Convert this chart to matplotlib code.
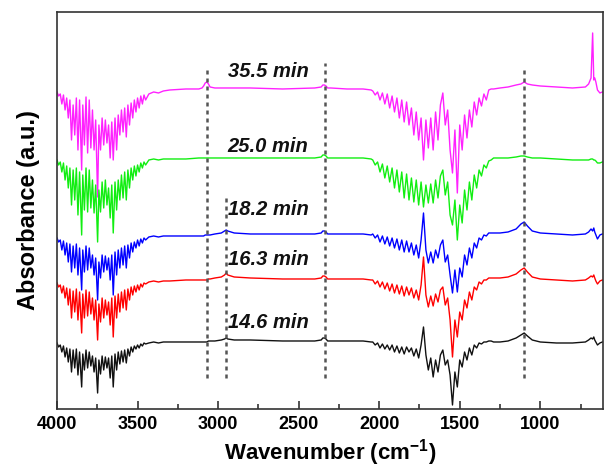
import matplotlib
matplotlib.use('Agg')
import matplotlib.pyplot as plt
from matplotlib.ticker import MultipleLocator

plt.rcParams.update({
    'font.family': ['Liberation Sans', 'DejaVu Sans'],
    'font.weight': 'bold',
    'mathtext.fontset': 'custom',
    'mathtext.rm': 'Liberation Sans:bold',
    'mathtext.bf': 'Liberation Sans:bold',
})

# DATA (absorbance, arbitrary offset units, stacked as in the figure)
# region A: O-H / water vapour band
wn_a = [4000, 3990, 3980, 3970, 3960, 3950, 3940, 3930, 3920, 3910,
        3900, 3890, 3880, 3870, 3860, 3847, 3840, 3830, 3820, 3810,
        3800, 3790, 3780, 3770, 3760, 3748, 3740, 3730, 3720, 3710,
        3700, 3690, 3680, 3670, 3660, 3651, 3640, 3630, 3620, 3610,
        3600, 3590, 3580, 3570, 3560, 3550, 3540, 3530, 3520, 3510,
        3500, 3490, 3480, 3470, 3460, 3450, 3430, 3400]
mag_a = [317, 313, 315, 305, 314, 299, 311, 291, 309, 269,
         304, 274, 311, 259, 309, 239, 304, 264, 312, 256,
         309, 261, 299, 259, 289, 212, 284, 259, 291, 264,
         289, 266, 284, 251, 287, 249, 291, 259, 294, 274,
         299, 277, 301, 272, 304, 284, 306, 291, 309, 297,
         311, 301, 313, 305, 314, 309, 315, 317]
grn_a = [249, 244, 247, 237, 246, 229, 243, 221, 241, 204,
         239, 209, 241, 194, 237, 174, 234, 199, 241, 197,
         239, 201, 229, 196, 224, 167, 219, 197, 227, 201,
         229, 204, 221, 191, 224, 176, 227, 199, 229, 209,
         234, 211, 237, 209, 239, 221, 241, 229, 243, 233,
         244, 237, 246, 241, 247, 244, 249, 250]
blu_a = [171, 167, 169, 159, 168, 154, 166, 147, 165, 137,
         163, 141, 165, 134, 161, 119, 159, 137, 163, 139,
         161, 141, 154, 134, 151, 109, 147, 131, 154, 137,
         153, 139, 151, 129, 154, 114, 157, 134, 159, 141,
         161, 144, 163, 141, 164, 151, 166, 157, 167, 161,
         169, 163, 170, 166, 171, 169, 172, 173]
red_a = [126, 122, 124, 116, 123, 111, 121, 104, 120, 91,
         118, 97, 120, 89, 117, 76, 115, 91, 119, 93,
         117, 95, 111, 89, 109, 69, 105, 87, 111, 91,
         109, 94, 107, 84, 111, 72, 113, 91, 115, 97,
         117, 101, 119, 99, 120, 109, 122, 114, 123, 117,
         124, 119, 125, 122, 126, 125, 127, 128]
blk_a = [66, 62, 64, 57, 63, 52, 61, 47, 60, 37,
         59, 41, 60, 34, 57, 22, 55, 39, 59, 41,
         57, 43, 53, 37, 51, 16, 49, 35, 53, 39,
         52, 41, 51, 31, 53, 22, 55, 39, 57, 45,
         58, 47, 59, 46, 60, 53, 62, 57, 63, 60,
         64, 61, 65, 63, 66, 65, 66, 67]

# region C: 3370-2050 (C-H and CO2 bands)
wn_c = [3370, 3340, 3300, 3200, 3120, 3100, 3090, 3080, 3070, 3060,
        3050, 3020, 2980, 2960, 2950, 2940, 2900, 2800, 2600, 2400,
        2360, 2350, 2340, 2330, 2320, 2300, 2200, 2100, 2050]
mag_c = [316, 318, 319, 320, 320, 321, 323, 326, 327, 325,
         322, 321, 321, 321, 321, 321, 321, 321, 320, 321,
         322, 324, 324, 323, 321, 321, 320, 320, 319]
grn_c = [249, 250, 250, 250, 251, 251, 251, 251, 251, 251,
         251, 251, 251, 251, 251, 251, 251, 251, 251, 251,
         252, 254, 254, 253, 251, 251, 251, 251, 250]
blu_c = [172, 173, 173, 173, 173, 173, 173, 174, 174, 174,
         174, 175, 176, 178, 179, 178, 176, 175, 175, 175,
         176, 178, 178, 177, 175, 175, 175, 175, 174]
red_c = [127, 128, 128, 129, 129, 129, 129, 129, 129, 130,
         130, 131, 132, 134, 136, 134, 132, 131, 130, 130,
         131, 133, 133, 132, 130, 130, 130, 130, 129]
blk_c = [66, 67, 67, 67, 67, 67, 67, 67, 67, 68,
         68, 68, 69, 70, 71, 70, 69, 69, 68, 68,
         69, 71, 71, 70, 68, 68, 68, 68, 67]

# region B: 2040-1305 (water bending / C=O)
wn_b = [2040, 2025, 2010, 1995, 1980, 1965, 1950, 1935, 1920, 1905,
        1890, 1875, 1860, 1845, 1830, 1815, 1800, 1785, 1770, 1755,
        1740, 1725, 1710, 1695, 1680, 1665, 1650, 1635, 1620, 1605,
        1590, 1575, 1560, 1545, 1530, 1515, 1500, 1485, 1470, 1455,
        1440, 1425, 1410, 1395, 1380, 1365, 1350, 1335, 1320, 1305]
mag_b = [318, 314, 317, 309, 316, 305, 315, 301, 313, 297,
         311, 291, 309, 287, 307, 284, 301, 274, 297, 269,
         291, 249, 289, 261, 291, 259, 297, 269, 304, 316,
         284, 299, 259, 236, 279, 216, 284, 259, 294, 271,
         299, 282, 307, 294, 311, 303, 315, 309, 319, 320]
grn_b = [249, 244, 247, 237, 245, 231, 243, 227, 241, 221,
         239, 217, 237, 211, 235, 209, 231, 207, 229, 204,
         227, 202, 224, 206, 225, 206, 229, 211, 233, 239,
         214, 227, 194, 184, 209, 169, 204, 186, 219, 199,
         227, 209, 234, 221, 239, 233, 244, 241, 248, 249]
blu_b = [175, 171, 174, 167, 173, 165, 172, 163, 171, 161,
         170, 159, 169, 157, 168, 157, 166, 154, 164, 151,
         169, 196, 159, 146, 157, 146, 159, 151, 164, 169,
         147, 154, 134, 116, 139, 117, 141, 132, 154, 144,
         161, 151, 166, 161, 171, 169, 174, 173, 176, 176]
red_b = [129, 125, 128, 122, 127, 120, 126, 118, 125, 116,
         124, 115, 123, 113, 122, 114, 121, 111, 119, 109,
         124, 152, 114, 102, 113, 103, 115, 107, 119, 122,
         104, 111, 89, 52, 89, 72, 97, 89, 109, 101,
         117, 109, 122, 119, 127, 125, 129, 129, 131, 131]
blk_b = [67, 64, 66, 61, 65, 60, 64, 59, 64, 57,
         63, 56, 62, 55, 62, 57, 61, 53, 60, 51,
         64, 82, 54, 39, 51, 32, 49, 37, 54, 59,
         44, 49, 34, 4, 37, 22, 49, 42, 57, 49,
         61, 54, 64, 61, 66, 65, 67, 67, 68, 68]

# region D: 1290-615 (C-O band, CO2 bend)
wn_d = [1290, 1250, 1200, 1150, 1120, 1100, 1080, 1050, 1000, 900,
        800, 720, 700, 685, 675, 668, 662, 655, 645, 630, 615]
mag_d = [320, 321, 322, 324, 325, 327, 325, 324, 323, 322,
         321, 322, 325, 331, 376, 329, 331, 327, 319, 316, 317]
grn_d = [251, 251, 251, 252, 253, 253, 252, 251, 251, 250,
         249, 249, 249, 250, 250, 249, 249, 248, 246, 246, 247]
blu_d = [176, 176, 177, 180, 185, 187, 183, 178, 176, 175,
         174, 175, 177, 180, 178, 181, 177, 174, 170, 174, 175]
red_d = [131, 131, 132, 135, 139, 141, 137, 132, 130, 129,
         128, 129, 131, 133, 132, 134, 131, 128, 125, 128, 129]
blk_d = [67, 67, 68, 71, 74, 76, 73, 69, 67, 66,
         66, 67, 69, 71, 70, 72, 69, 67, 64, 66, 67]

labels = ['35.5 min', '25.0 min', '18.2 min', '16.3 min', '14.6 min']
marker_wn = [3070, 2950, 2335, 1100]

# STYLE / LAYOUT
colors = ['#ff22ff', '#11ee11', '#0000ff', '#ff0000', '#111111']
label_y = [337, 262, 199, 149, 86]
marker_top = [340, 215, 346, 341]
marker_bottom = 31

wn = wn_a + wn_c + wn_b + wn_d
spectra = [
    mag_a + mag_c + mag_b + mag_d,
    grn_a + grn_c + grn_b + grn_d,
    blu_a + blu_c + blu_b + blu_d,
    red_a + red_c + red_b + red_d,
    blk_a + blk_c + blk_b + blk_d,
]

fig = plt.figure(figsize=(6.04, 4.70), dpi=100)
ax = fig.add_axes([0.0944, 0.1298, 0.9036, 0.8447])

for y, c in zip(spectra, colors):
    ax.plot(wn, y, color=c, lw=1.0)

for x, top in zip(marker_wn, marker_top):
    ax.plot([x, x], [marker_bottom, top], color='#555555', lw=1.8,
            linestyle=(0, (1.6, 1.6)))

for txt, y in zip(labels, label_y):
    ax.text(2940, y, txt, fontsize=14.5, fontweight='bold', fontstyle='italic',
            va='center', ha='left', color='#111111')

ax.set_xlim(4000, 612)
ax.set_ylim(0, 397)
ax.xaxis.set_major_locator(MultipleLocator(500))
ax.xaxis.set_minor_locator(MultipleLocator(250))
ax.tick_params(axis='x', which='major', direction='in', length=6, width=1.2,
               labelsize=13, pad=5, color='#333333')
ax.tick_params(axis='x', which='minor', direction='in', length=3.5, width=1.2,
               color='#333333')
ax.set_yticks([])
for lab in ax.get_xticklabels():
    lab.set_fontweight('bold')
for s in ax.spines.values():
    s.set_linewidth(1.2)
    s.set_color('#333333')

ax.set_xlabel(r'Wavenumber (cm$^{\mathbf{-1}}$)', fontsize=16, fontweight='bold',
              labelpad=3)
ax.set_ylabel('Absorbance (a.u.)', fontsize=17, fontweight='bold', labelpad=12)

fig.savefig('out.png', dpi=100)
